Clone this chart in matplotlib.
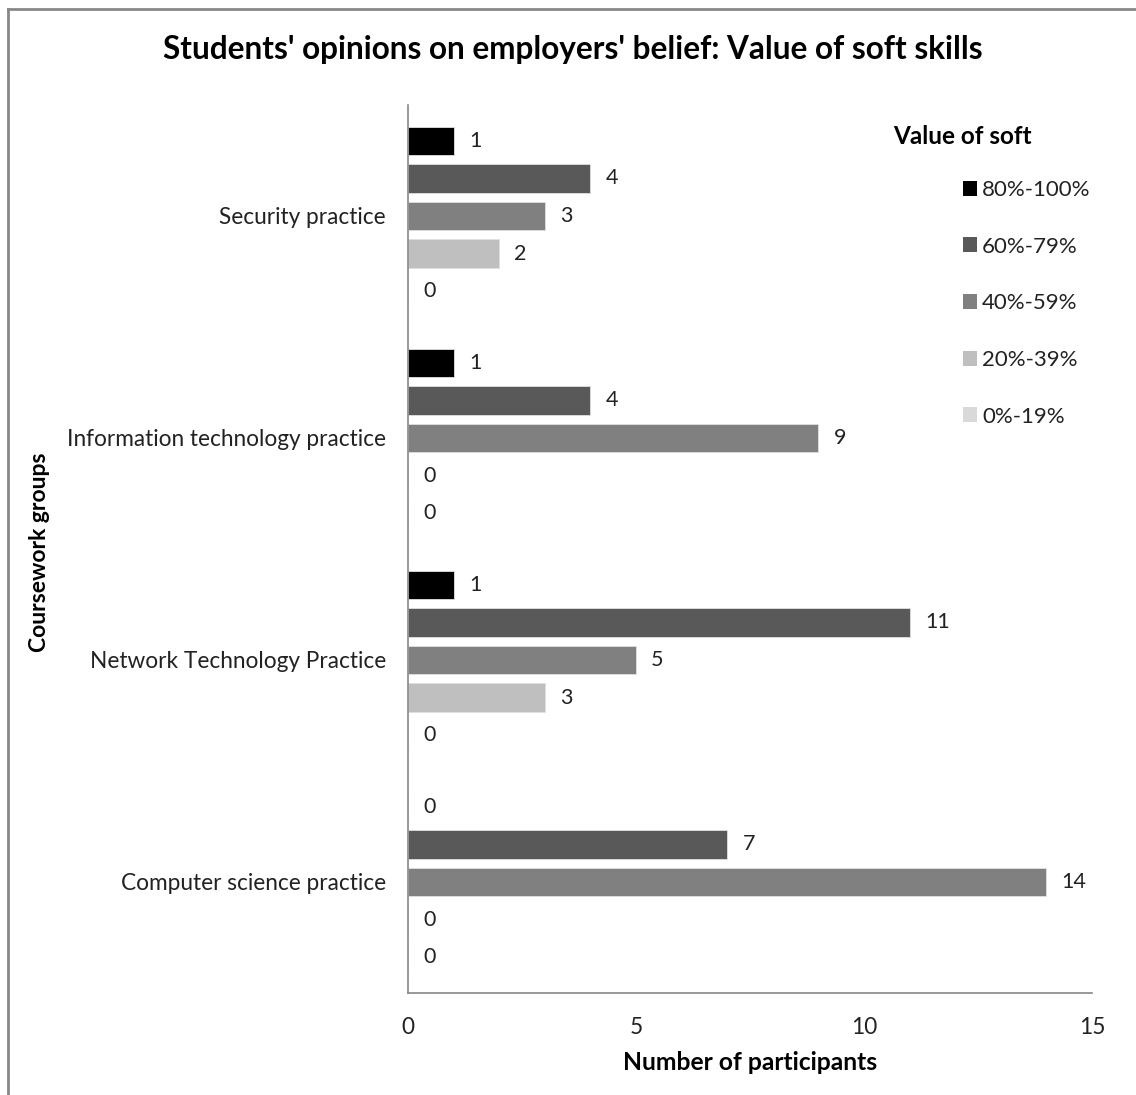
import numpy as np
import matplotlib
matplotlib.use("Agg")
import matplotlib.pyplot as plt
from matplotlib.patches import Patch
from matplotlib.lines import Line2D

plt.rcParams["font.family"] = ["Lato", "DejaVu Sans"]

groups = ["Security practice", "Information technology practice",
          "Network Technology Practice", "Computer science practice"]
levels = ["80%-100%", "60%-79%", "40%-59%", "20%-39%", "0%-19%"]
colors = ["#000000", "#595959", "#808080", "#bfbfbf", "#d9d9d9"]

v_80_100 = [1, 1, 1, 0]
v_60_79 = [4, 4, 11, 7]
v_40_59 = [3, 9, 5, 14]
v_20_39 = [2, 0, 3, 0]
v_0_19 = [0, 0, 0, 0]
series = [v_80_100, v_60_79, v_40_59, v_20_39, v_0_19]

W, H = 1136, 1095
fig = plt.figure(figsize=(W / 100, H / 100), dpi=100)
ax = fig.add_axes([408 / W, 1 - 993 / H, (1092 - 408) / W, (993 - 105) / H])

step = 0.169
bh = 0.127
y = np.arange(len(groups))
for j, (vals, c) in enumerate(zip(series, colors)):
    pos = y + (j - 2) * step
    ax.barh(pos, vals, height=bh, color=c, edgecolor="#e0e0e0", linewidth=0.6)
    for p, v in zip(pos, vals):
        ax.annotate(str(v), (v, p), xytext=(11, 0), textcoords="offset points",
                    ha="left", va="center", fontsize=15.5, color="#222222")

ax.set_ylim(len(groups) - 0.5, -0.5)
ax.set_xlim(0, 15)
ax.set_xticks([0, 5, 10, 15])
ax.set_yticks(y)
ax.set_yticklabels(groups)
ax.tick_params(axis="both", length=0, labelsize=16.3, colors="#222222")
ax.tick_params(axis="y", pad=16)
ax.tick_params(axis="x", pad=17)
for s in ["top", "right"]:
    ax.spines[s].set_visible(False)
for s in ["left", "bottom"]:
    ax.spines[s].set_color("#888888")
    ax.spines[s].set_linewidth(1.2)

ax.set_xlabel("Number of participants", fontsize=17.7, fontweight="bold", labelpad=10)
fig.text(40 / W, 1 - 552 / H, "Coursework groups", rotation=90, fontsize=16.5,
         fontweight="bold", ha="center", va="center")
fig.text(573 / W, 1 - 50 / H,
         "Students' opinions on employers' belief: Value of soft skills",
         fontsize=22.7, fontweight="bold", ha="center", va="center")

handles = [Patch(facecolor=c, edgecolor="none") for c in colors]
fig.legend(handles, levels, loc="upper left", bbox_to_anchor=(943 / W, 1 - 160 / H),
           frameon=False, fontsize=16, handlelength=0.65, handleheight=0.65,
           handletextpad=0.2, labelspacing=1.65, labelcolor="#222222")
fig.text(893 / W, 1 - 137 / H, "Value of soft", fontsize=17.5, fontweight="bold",
         ha="left", va="center")

# outer chart border (top and left visible)
fig.add_artist(Line2D([8 / W, 8 / W], [0, 1 - 9 / H], transform=fig.transFigure,
                      color="#888888", lw=2))
fig.add_artist(Line2D([8 / W, 1], [1 - 9 / H, 1 - 9 / H], transform=fig.transFigure,
                      color="#888888", lw=2))

fig.savefig("out.png", dpi=100)
